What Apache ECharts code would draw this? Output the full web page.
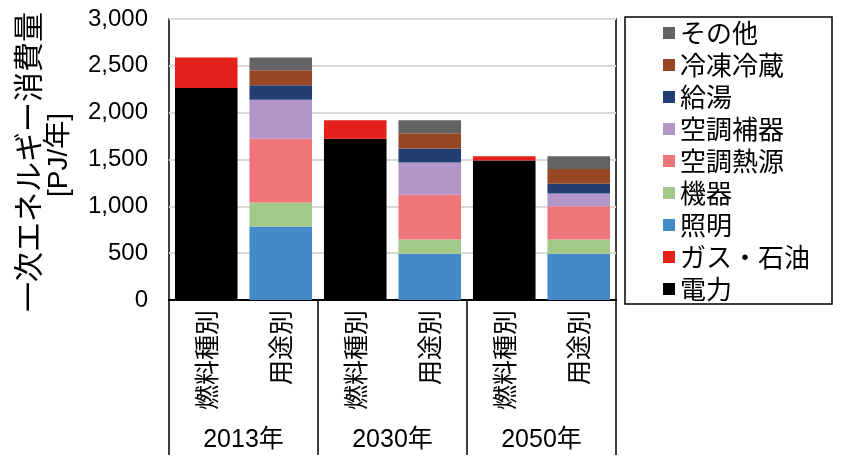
<!DOCTYPE html>
<html>
<head>
<meta charset="utf-8">
<script src="https://cdn.jsdelivr.net/npm/echarts@6/dist/echarts.min.js"></script>
<style>html,body{margin:0;padding:0;background:#fff;}#c{width:847px;height:473px;}</style>
</head>
<body>
<div id="c"></div>
<script>
var categories = ['燃料種別', '用途別', '燃料種別', '用途別', '燃料種別', '用途別'];
var years = ['2013年', '2030年', '2050年'];
var yTicks = [0, 500, 1000, 1500, 2000, 2500, 3000];

var denryoku = [2263, null, 1722, null, 1490, null];
var gasOil   = [325, null, 196, null, 46, null];
var shoumei  = [null, 785, null, 493, null, 493];
var kiki     = [null, 257, null, 153, null, 153];
var netsugen = [null, 680, null, 478, null, 356];
var hoki     = [null, 417, null, 345, null, 136];
var kyuto    = [null, 153, null, 149, null, 103];
var reito    = [null, 160, null, 161, null, 157];
var sonota   = [null, 136, null, 139, null, 138];

var seriesDefs = [
  ['電力', denryoku, '#000000'],
  ['ガス・石油', gasOil, '#e5211b'],
  ['照明', shoumei, '#4689c8'],
  ['機器', kiki, '#a3c98a'],
  ['空調熱源', netsugen, '#ee7679'],
  ['空調補器', hoki, '#b296c7'],
  ['給湯', kyuto, '#233f72'],
  ['冷凍冷蔵', reito, '#964826'],
  ['その他', sonota, '#636363']
];

var FONT = "'Liberation Sans', 'Noto Sans CJK JP', sans-serif";
var JFONT = "'Noto Sans CJK JP', sans-serif";

var chart = echarts.init(document.getElementById('c'), null, {renderer: 'canvas'});
chart.setOption({
  animation: false,
  backgroundColor: '#ffffff',
  grid: {left: 169, right: 231, top: 19, bottom: 173, show: true, borderColor: '#000', borderWidth: 1.5, backgroundColor: 'transparent'},
  legend: {
    orient: 'vertical', left: 663, top: 20, padding: 0,
    itemWidth: 12, itemHeight: 12, itemGap: 6, icon: 'rect',
    textStyle: {fontSize: 26, lineHeight: 26, color: '#000', fontFamily: JFONT},
    data: seriesDefs.map(function (s) { return s[0]; }).reverse()
  },
  graphic: [
    {type: 'rect', shape: {x: 625, y: 17, width: 207, height: 287}, style: {fill: 'none', stroke: '#000', lineWidth: 1.5}, z: 100},
    {type: 'text', x: 28, y: 162, rotation: Math.PI / 2, style: {text: '一次エネルギー消費量', fontSize: 30, fontFamily: JFONT, fill: '#000', textAlign: 'center', textVerticalAlign: 'middle'}},
    {type: 'text', x: 59, y: 155, rotation: Math.PI / 2, style: {text: '[PJ/年]', fontSize: 28, fontFamily: FONT, fill: '#000', textAlign: 'center', textVerticalAlign: 'middle'}}
  ],
  xAxis: [
    {
      type: 'category', data: categories, position: 'bottom',
      axisLine: {show: true, lineStyle: {color: '#000', width: 2}},
      axisTick: {show: false},
      axisLabel: {rotate: 90, margin: 10, fontSize: 25, color: '#000', fontFamily: JFONT, interval: 0},
      splitLine: {show: false}
    },
    {
      type: 'category', data: years, position: 'bottom', gridIndex: 0,
      axisLine: {show: false},
      axisTick: {show: true, length: 155, lineStyle: {color: '#000', width: 1.5}},
      axisLabel: {margin: 128, fontSize: 25, color: '#000', fontFamily: FONT},
      splitLine: {show: false}
    }
  ],
  yAxis: {
    type: 'value', min: yTicks[0], max: yTicks[yTicks.length - 1], interval: yTicks[1] - yTicks[0],
    axisLine: {show: false}, axisTick: {show: false},
    axisLabel: {margin: 21, fontSize: 24, color: '#000', fontFamily: FONT,
      formatter: function (v) { return v.toLocaleString('en-US'); }},
    splitLine: {show: true, lineStyle: {color: '#d9d9d9', width: 2}}
  },
  series: seriesDefs.map(function (s) {
    return {
      name: s[0], type: 'bar', stack: 'total', data: s[1], xAxisIndex: 0,
      barCategoryGap: '16%', itemStyle: {color: s[2]}
    };
  })
});
</script>
</body>
</html>
